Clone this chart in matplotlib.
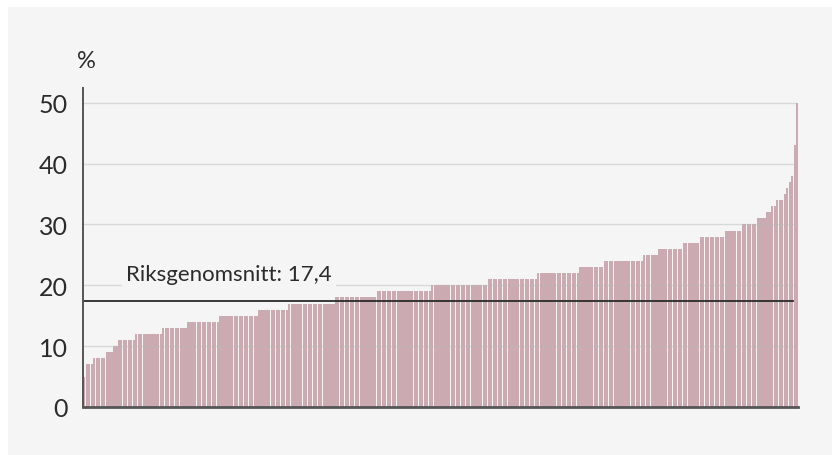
import matplotlib.pyplot as plt
from matplotlib.patches import Rectangle
import numpy as np

# share (%) per municipality, sorted ascending, one value per level with its count
levels = [5, 7, 8, 9, 10, 11, 12, 13, 14, 15, 16, 17, 18, 19, 20, 21, 22, 23, 24,
          25, 26, 27, 28, 29, 30, 31, 32, 33, 34, 35, 36, 37, 38, 43, 50]
counts = [1, 3, 5, 3, 2, 7, 11, 10, 13, 16, 12, 19, 17, 22, 23, 20, 17, 10, 16,
          6, 10, 7, 10, 7, 6, 4, 2, 2, 3, 1, 1, 1, 1, 1, 1]
values = np.repeat(levels, counts)

national_avg = 17.4
avg_label = 'Riksgenomsnitt: 17,4'
yticks = [0, 10, 20, 30, 40, 50]

bar_c = '#cbaab2'
panel_c = '#f5f5f5'
text_c = '#2b2b2b'

plt.rcParams['font.family'] = ['Lato', 'DejaVu Sans']

fig = plt.figure(figsize=(8.32, 4.56), dpi=100)
fig.patch.set_facecolor('white')
fig.patches.append(Rectangle((8 / 832, 0), 1, 1 - 8 / 456, transform=fig.transFigure,
                             facecolor=panel_c, edgecolor='none', zorder=-5))

ax = fig.add_axes([0.1, 0.1053, 0.8595, 0.699])
ax.set_facecolor(panel_c)

x = np.arange(len(values))
ax.bar(x, values, width=0.86, color=bar_c, linewidth=0, zorder=1)

ax.set_xlim(-0.5, len(values) - 0.5)
ax.set_ylim(0, 52.4)

# gridlines sit on top of the bars, faintly
for t in yticks[1:]:
    ax.axhline(t, color='#b9b9b9', lw=1, alpha=0.45, zorder=2)

ax.axhline(national_avg, xmin=0, xmax=0.993, color='#2a2a2a', lw=1.3, zorder=4)
ax.text(16.8, 21.9, avg_label, fontsize=16, color=text_c, va='center', ha='left',
        zorder=5, bbox=dict(facecolor=panel_c, edgecolor='none', pad=3))

ax.set_yticks(yticks)
ax.set_xticks([])
ax.tick_params(axis='y', length=0, pad=11, labelsize=18, labelcolor=text_c)

for side in ['top', 'right']:
    ax.spines[side].set_visible(False)
ax.spines['left'].set_color('#555555')
ax.spines['left'].set_linewidth(1.4)
ax.spines['bottom'].set_color('#555555')
ax.spines['bottom'].set_linewidth(2)
ax.spines['left'].set_zorder(6)
ax.spines['bottom'].set_zorder(6)

fig.text(86 / 832, 1 - 61 / 456, '%', fontsize=17, color=text_c, ha='center', va='center')

plt.savefig('out.png', dpi=100, facecolor=fig.get_facecolor())
